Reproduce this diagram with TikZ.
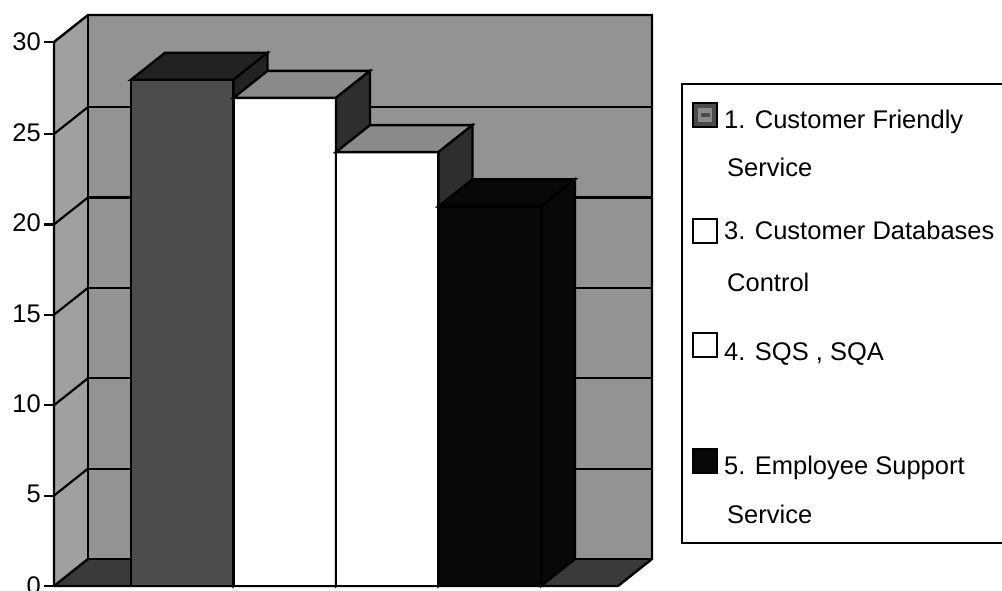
\documentclass[tikz,border=0pt]{standalone}
\usepackage{fontspec}
\setmainfont{Liberation Sans}
\definecolor{wallgray}{HTML}{939393}
\definecolor{sidewall}{HTML}{A0A0A0}
\definecolor{floorgray}{HTML}{3A3A3A}
\definecolor{barone}{HTML}{4C4C4C}
\definecolor{bartop}{HTML}{222222}
\definecolor{barside}{HTML}{2E2E2E}
\definecolor{bartopgray}{HTML}{8A8A8A}
\definecolor{barblack}{HTML}{080808}
\begin{document}
\begin{tikzpicture}[x=1pt,y=-1pt,
  edge/.style={draw=black,line width=2.4pt,line join=miter},
  grid/.style={draw=black,line width=2.2pt},
  ticklbl/.style={anchor=east,inner sep=0pt,font=\fontsize{25.5}{30}\selectfont},
  leglbl/.style={anchor=base west,inner sep=0pt,font=\fontsize{25.5}{30}\selectfont},
  legsym/.style={minimum width=24pt,minimum height=24pt,inner sep=0pt,draw=black,line width=2pt}]
\useasboundingbox (0,0) rectangle (1002,590);
\fill[white] (0,0) rectangle (1002,590);
% walls and floor
\fill[sidewall] (54,42) -- (88,15) -- (88,559) -- (54,586) -- cycle;
\fill[wallgray] (88,15) rectangle (652,559);
\fill[floorgray] (54,586) -- (88,559) -- (652,559) -- (618,586) -- cycle;
% gridlines (levels 5..25)
\foreach \v in {5,10,15,20,25}{
  \pgfmathsetmacro{\yf}{586-18.08*\v}
  \pgfmathsetmacro{\yb}{\yf-27}
  \draw[grid] (88,\yb) -- (652,\yb);
  \draw[grid] (54,\yf) -- (88,\yb);
  \draw[grid] (44,\yf) -- (54,\yf);
}
\draw[grid] (44,42) -- (54,42);
\draw[grid] (44,586) -- (54,586);
% wall outlines
\draw[edge] (54,586) -- (54,42) -- (88,15) -- (652,15) -- (652,559) -- (618,586) -- cycle;
\draw[edge] (88,15) -- (88,559) -- (652,559);
\draw[edge] (54,586) -- (88,559);
% bars
\newcommand{\drawbar}[6]{%
  \pgfmathsetmacro{\yf}{586-18.08*#3}
  \pgfmathsetmacro{\yb}{\yf-27}
  \pgfmathsetmacro{\xr}{#1+#2}
  \filldraw[edge,fill=#4] (#1,\yf) rectangle (\xr,586);
  \filldraw[edge,fill=#5] (#1,\yf) -- (#1+34,\yb) -- (\xr+34,\yb) -- (\xr,\yf) -- cycle;
  \filldraw[edge,fill=#6] (\xr,\yf) -- (\xr+34,\yb) -- (\xr+34,559) -- (\xr,586) -- cycle;
}
\drawbar{131}{102.5}{28}{barone}{bartop}{bartop}
\drawbar{233.5}{102.5}{27}{white}{bartopgray}{barside}
\drawbar{336}{102.5}{24}{white}{bartopgray}{barside}
\drawbar{438.5}{102.5}{21}{barblack}{barblack}{barblack}
% tick labels
\node[ticklbl] (t30) at (41,42) {30};
\node[ticklbl] (t25) at (41,132.6) {25};
\node[ticklbl] (t20) at (41,223) {20};
\node[ticklbl] (t15) at (41,313.4) {15};
\node[ticklbl] (t10) at (41,403.8) {10};
\node[ticklbl] (t5) at (41,494.2) {5};
\node[ticklbl] (t0) at (41,586) {0};
% legend
\draw[line width=2.4pt] (682,84) rectangle (1012,543);
\node[legsym,fill=barone] (s1) at (705,115) {};
\fill[bartopgray] (698,108) rectangle (712,122);
\fill[barone] (701,113) rectangle (710,117);
\node[legsym,fill=white] (s3) at (705,231) {};
\node[legsym,fill=white] (s4) at (705,345) {};
\node[legsym,fill=barblack] (s5) at (705,461) {};
\node[leglbl] (l1a) at (724,128) {1. Customer Friendly};
\node[leglbl] (l1b) at (727,176) {Service};
\node[leglbl] (l3a) at (724,239) {3. Customer Databases};
\node[leglbl] (l3b) at (727,291) {Control};
\node[leglbl] (l4) at (724,360) {4. SQS , SQA};
\node[leglbl] (l5a) at (724,474) {5. Employee Support};
\node[leglbl] (l5b) at (727,523) {Service};
\end{tikzpicture}
\end{document}
